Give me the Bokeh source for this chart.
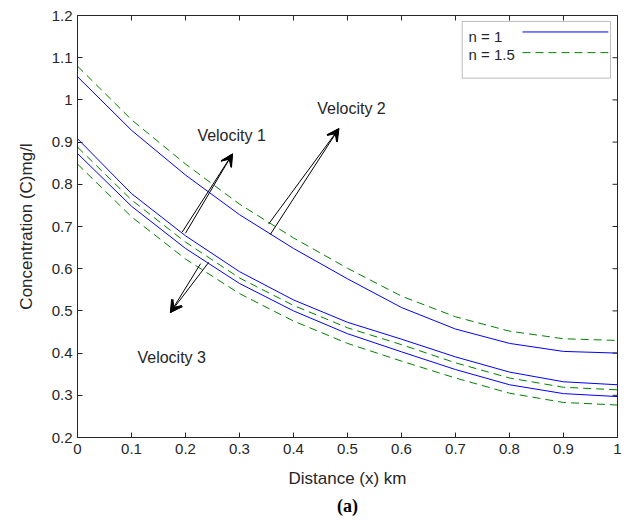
from bokeh.plotting import figure
from bokeh.models import (Range1d, Label, Arrow, VeeHead, Title,
                          FixedTicker, BoxAnnotation)
from bokeh.embed import file_html
from bokeh.resources import INLINE

# ---- data ----
x_km = [0.0, 0.1, 0.2, 0.3, 0.4, 0.5, 0.6, 0.7, 0.8, 0.9, 1.0]

top_n1 = [1.055, 0.928, 0.822, 0.728, 0.648, 0.576, 0.508, 0.457, 0.423, 0.404, 0.400]
top_n15 = [1.080, 0.953, 0.848, 0.753, 0.673, 0.601, 0.535, 0.486, 0.452, 0.434, 0.430]
mid_n1 = [0.908, 0.778, 0.678, 0.593, 0.526, 0.473, 0.433, 0.391, 0.355, 0.332, 0.325]
mid_n15 = [0.888, 0.763, 0.663, 0.578, 0.513, 0.460, 0.420, 0.377, 0.341, 0.319, 0.313]
low_n1 = [0.873, 0.748, 0.648, 0.565, 0.500, 0.446, 0.403, 0.361, 0.325, 0.304, 0.297]
low_n15 = [0.848, 0.723, 0.623, 0.541, 0.476, 0.423, 0.381, 0.341, 0.305, 0.283, 0.277]

x_ticks = [0, 0.1, 0.2, 0.3, 0.4, 0.5, 0.6, 0.7, 0.8, 0.9, 1]
x_tick_labels = ["0", "0.1", "0.2", "0.3", "0.4", "0.5", "0.6", "0.7", "0.8", "0.9", "1"]
y_ticks = [0.2, 0.3, 0.4, 0.5, 0.6, 0.7, 0.8, 0.9, 1, 1.1, 1.2]
y_tick_labels = ["0.2", "0.3", "0.4", "0.5", "0.6", "0.7", "0.8", "0.9", "1", "1.1", "1.2"]

legend_labels = ["n = 1", "n = 1.5"]

# annotation arrows: (text, text position, tip, bases)
annotations = [
    ("Velocity 1", (0.222, 0.916), (0.287, 0.872), [(0.194, 0.687), (0.200, 0.684)]),
    ("Velocity 2", (0.444, 0.980), (0.484, 0.932), [(0.354, 0.706), (0.357, 0.681)]),
    ("Velocity 3", (0.111, 0.390), (0.172, 0.496), [(0.228, 0.612), (0.243, 0.615)]),
]

FONT = "Liberation Sans"
TXT = "#262626"
BLUE = "#0000FF"
GREEN = "#008000"
DASH = "8 5"

W, H = 630, 530
ML, MR, MT, MB = 77, 13, 15, 93
FRAME_W = W - ML - MR
FRAME_H = H - MT - MB
TICK_PX = 5

x0, x1 = 0, 1
y0, y1 = 0.2, 1.2

p = figure(width=W, height=H, output_backend="svg", toolbar_location=None,
           x_range=Range1d(x0, x1), y_range=Range1d(y0, y1),
           min_border_left=ML, min_border_right=MR, min_border_top=MT,
           min_border_bottom=MB)
p.grid.visible = False
p.outline_line_color = "#262626"
p.outline_line_width = 1
p.background_fill_color = "white"
p.border_fill_color = "white"

# curves
for ys, col, dash in [(top_n1, BLUE, "solid"), (top_n15, GREEN, DASH),
                      (mid_n1, BLUE, "solid"), (mid_n15, GREEN, DASH),
                      (low_n1, BLUE, "solid"), (low_n15, GREEN, DASH)]:
    p.line(x_km, ys, line_color=col, line_width=1, line_dash=dash)

# axes styling
def style_axis(ax, ticks, labels):
    ax.ticker = FixedTicker(ticks=ticks)
    ax.major_label_overrides = {t: l for t, l in zip(ticks, labels)}
    ax.major_tick_in = TICK_PX
    ax.major_tick_out = 0
    ax.minor_tick_line_color = None
    ax.axis_line_color = "#262626"
    ax.major_tick_line_color = "#262626"
    ax.major_label_text_font = FONT
    ax.major_label_text_font_size = "15px"
    ax.major_label_text_color = TXT
    ax.axis_label_text_font = FONT
    ax.axis_label_text_font_size = "17px"
    ax.axis_label_text_font_style = "normal"
    ax.axis_label_text_color = TXT

style_axis(p.xaxis[0], x_ticks, x_tick_labels)
style_axis(p.yaxis[0], y_ticks, y_tick_labels)
p.xaxis[0].axis_label = "Distance (x) km"
p.xaxis[0].major_label_standoff = 6
p.xaxis[0].axis_label_standoff = 12
p.yaxis[0].axis_label = "Concentration (C)mg/l"
p.yaxis[0].major_label_standoff = 5
p.yaxis[0].axis_label_standoff = 13

# inward ticks on the top and right edges of the box (no labels there)
dy_tick = (y1 - y0) * TICK_PX / FRAME_H
dx_tick = (x1 - x0) * TICK_PX / FRAME_W
p.segment(x0=x_ticks, y0=[y1] * len(x_ticks), x1=x_ticks,
          y1=[y1 - dy_tick] * len(x_ticks), line_color="#262626", line_width=1)
p.segment(x0=[x1] * len(y_ticks), y0=y_ticks, x1=[x1 - dx_tick] * len(y_ticks),
          y1=y_ticks, line_color="#262626", line_width=1)

# annotations with arrows
for text, (tx, ty), (hx, hy), bases in annotations:
    for bx, by in bases:
        p.add_layout(Arrow(x_start=bx, y_start=by, x_end=hx, y_end=hy,
                           line_color="black", line_width=1,
                           end=VeeHead(size=12, fill_color="black",
                                       line_color="black", line_width=1)))
    p.add_layout(Label(x=tx, y=ty, text=text, text_font=FONT,
                       text_font_size="16px", text_color=TXT,
                       text_baseline="middle", text_align="left"))

# legend (text left, line sample right), MATLAB style
p.add_layout(BoxAnnotation(left=0.7124, right=0.987, top=1.186, bottom=1.0515,
                           fill_color="white", fill_alpha=1.0,
                           line_color="#262626", line_width=1))
leg_rows = [(1.151, 1.161, BLUE, "solid"), (1.107, 1.112, GREEN, DASH)]
for lab, (ty, ly, col, dash) in zip(legend_labels, leg_rows):
    p.add_layout(Label(x=0.724, y=ty, text=lab, text_font=FONT,
                       text_font_size="15px", text_color=TXT,
                       text_baseline="middle", text_align="left"))
    p.add_layout(Arrow(x_start=0.824, y_start=ly, x_end=0.983, y_end=ly,
                       line_color=col, line_width=1, line_dash=dash, end=None))

cap = Title(text="(a)", align="center", text_font="Liberation Serif",
            text_font_style="bold", text_font_size="18px", text_color="black",
            standoff=6)
p.add_layout(cap, "below")

open("out.html", "w").write(file_html(p, INLINE))
